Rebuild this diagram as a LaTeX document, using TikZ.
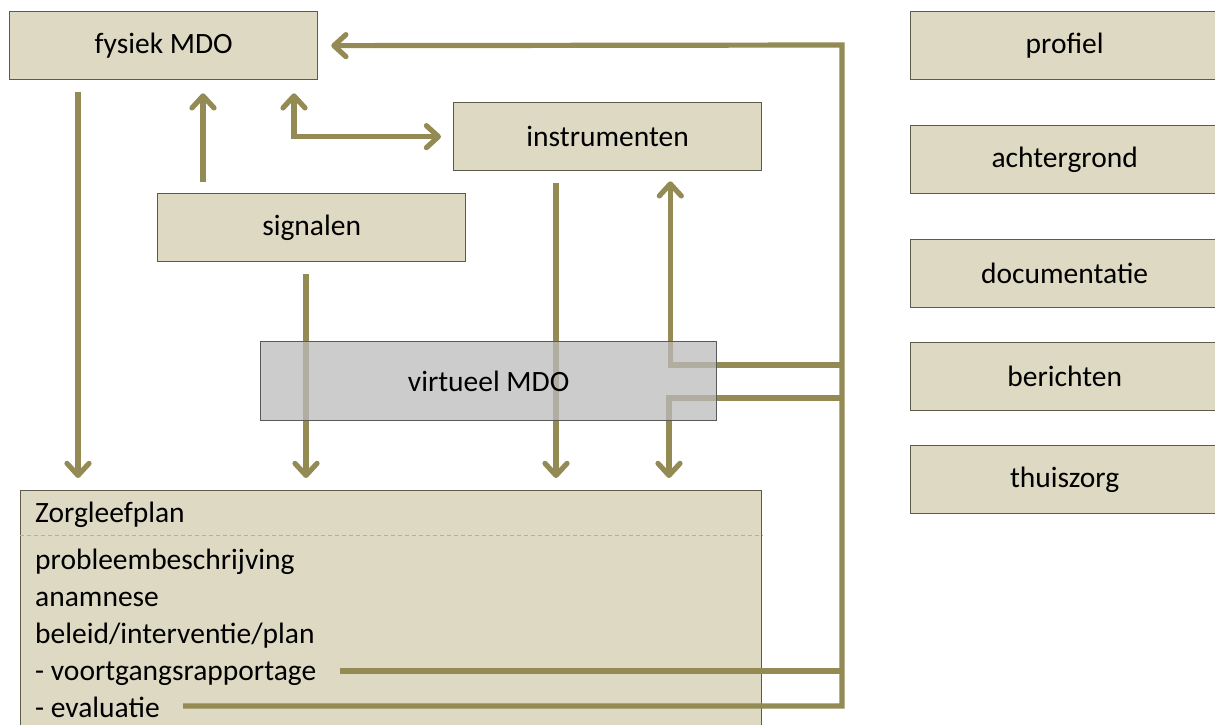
\documentclass[tikz,border=0pt]{standalone}
\usepackage{fontspec}
\setmainfont{Carlito}
\usetikzlibrary{arrows.meta,calc}
\definecolor{olivec}{HTML}{948A54}
\definecolor{boxfill}{HTML}{DDD9C3}
\definecolor{boxline}{HTML}{5E5B4A}
\definecolor{virtfill}{HTML}{BBBBBB}
\definecolor{dashc}{HTML}{B8B190}
\begin{document}
\begin{tikzpicture}[x=1pt,y=-1pt,
  box/.style={draw=boxline, line width=1.3pt, fill=boxfill, minimum width=308pt,
    minimum height=68pt, inner sep=0pt, anchor=north west,
    font=\fontsize{29.5}{34}\selectfont},
  conn/.style={draw=olivec, line width=5.2pt},
  tipa/.tip={Straight Barb[length=12pt,width=22pt,line cap=round,line join=round]},
  arr/.style={conn, -tipa},
  darr/.style={conn, tipa-tipa},
  ztext/.style={anchor=base west, inner sep=0pt, font=\fontsize{29.5}{34}\selectfont}]
\useasboundingbox (0,0) rectangle (1215,724);
\clip (0,0) rectangle (1215,724);
\fill[white] (0,0) rectangle (1215,724);

% boxes
\node[box] (fys) at (9,11) {fysiek MDO};
\node[box] (ins) at (453,102) {instrumenten};
\node[box] (sig) at (157,193) {signalen};
\node[box] (pro) at (910,11) {profiel};
\node[box] (ach) at (910,125) {achtergrond};
\node[box] (doc) at (910,239) {documentatie};
\node[box] (ber) at (910,342) {berichten};
\node[box] (thu) at (910,445) {thuiszorg};
\node[box, minimum width=741pt, minimum height=260pt] (zlp) at (20,490) {};

\draw[dashc, line width=1pt, dash pattern=on 4pt off 3pt]
  ($(zlp.north west)+(0,45)$) -- ($(zlp.north east)+(0,45)$);

\node[ztext] (zh) at (35,522) {Zorgleefplan};
\node[ztext] (pb) at (35,569) {probleembeschrijving};
\node[ztext] (an) at (35,606) {anamnese};
\node[ztext] (bl) at (35,643) {beleid/interventie/plan};
\node[ztext] (vg) at (35,680) {- voortgangsrapportage};
\node[ztext] (ev) at (35,717) {- evaluatie};

% bus coordinates
\coordinate (busT) at (842,45);
\coordinate (busA) at (842,365);
\coordinate (busB) at (842,398);
\coordinate (busC) at (842,671);
\coordinate (busD) at (842,706);
\coordinate (vgL) at (340,671);
\coordinate (evL) at (183,706);

% connectors
\draw[arr] (evL) -- (busD) -- (busT) -- ($(fys.east)+(13,0)$);
\draw[conn] (busC) -- (vgL);
\draw[arr] (busA) -| ($(ins.south east)+(-92,10)$);
\draw[arr] (busB) -| ($(zlp.north west)+(649,-12)$);
\draw[arr] ($(fys.south west)+(69,12)$) -- ($(zlp.north west)+(58,-12)$);
\draw[arr] ($(sig.north west)+(46,-11)$) -- ($(fys.south west)+(194,13)$);
\draw[darr] ($(fys.south west)+(285,13)$) |- ($(ins.west)+(-12,0)$);
\draw[arr] ($(sig.south west)+(149,12)$) -- ($(zlp.north west)+(286,-12)$);
\draw[arr] ($(ins.south west)+(103,12)$) -- ($(zlp.north west)+(536,-12)$);

% virtual box on top, translucent
\node[box, draw=black!65, fill=virtfill, fill opacity=0.75, text opacity=1,
  minimum width=456pt, minimum height=79pt] (vir) at (260,341) {virtueel MDO};
\end{tikzpicture}
\end{document}
